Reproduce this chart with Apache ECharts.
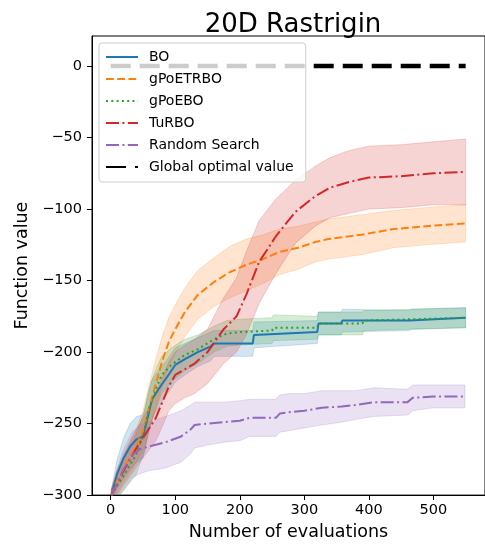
<!DOCTYPE html>
<html><head><meta charset="utf-8">
<script src="https://cdn.jsdelivr.net/npm/echarts@6/dist/echarts.min.js"></script>
<style>html,body{margin:0;padding:0;background:#fff}#c{width:485px;height:546px}</style>
</head><body><div id="c"></div>
<script>
const xTicks = [0, 100, 200, 300, 400, 500];
const yTicks = [-300, -250, -200, -150, -100, -50, 0];

const boX = [1, 10, 20, 30, 40, 50, 55, 64, 74, 85, 100, 115, 135, 155, 160, 190, 220, 222, 320, 322, 357, 359, 463, 465, 550];
const boMean = [-300, -285, -274, -266, -261, -259, -250, -233, -226, -219, -209, -205, -200, -196, -194, -194, -194, -188, -186, -180, -180, -178, -178, -177, -176];
const boHigh = [-296, -275, -260, -250, -245, -244, -236, -219, -213, -207, -197, -194, -190, -186, -185, -185, -185, -179, -178, -172, -172, -170, -171, -170, -169];
const boLow = [-304, -295, -288, -282, -277, -274, -264, -247, -239, -231, -221, -216, -210, -206, -203, -203, -203, -197, -194, -188, -188, -186, -185, -184, -183];

const etrX = [1, 10, 20, 30, 40, 50, 60, 70, 80, 90, 100, 115, 135, 160, 185, 210, 236, 261, 291, 317, 337, 388, 438, 488, 550];
const etrMean = [-300, -290, -281, -273, -265, -255, -238, -222, -206, -193, -184, -172, -160, -151, -144, -139, -135, -130, -127, -123, -121, -118, -114, -112, -110];
const etrHigh = [-296, -282, -271, -262, -253, -241, -222, -205, -189, -176, -167, -155, -143, -134, -126, -121, -118, -114, -112, -109, -107, -104, -101, -99, -97];
const etrLow = [-304, -298, -291, -284, -277, -269, -254, -239, -223, -210, -201, -189, -177, -168, -162, -157, -152, -146, -142, -137, -135, -132, -127, -125, -123];

const ebX = [1, 18, 39, 52, 59, 70, 79, 94, 115, 135, 160, 180, 200, 250, 252, 320, 322, 390, 392, 550];
const ebMean = [-300, -288, -272, -256, -240, -226, -216, -209, -202, -198, -191, -187, -186, -185, -183, -183, -180, -180, -178, -176];
const ebHigh = [-296, -278, -258, -242, -226, -212, -203, -197, -191, -188, -182, -178, -177, -176, -174, -175, -172, -172, -171, -169];
const ebLow = [-304, -298, -286, -270, -254, -240, -229, -221, -213, -208, -200, -196, -195, -194, -192, -191, -188, -188, -185, -183];

const turX = [1, 10, 20, 30, 40, 50, 60, 70, 80, 90, 100, 115, 130, 150, 175, 195, 210, 230, 256, 286, 317, 340, 370, 400, 450, 500, 550];
const turMean = [-300, -292, -283, -275, -267, -260, -253, -246, -235, -224, -216, -212, -208, -200, -184, -175, -160, -137, -119, -102, -91, -85, -81, -78, -77, -75, -74];
const turHigh = [-296, -284, -273, -263, -254, -246, -238, -230, -218, -207, -200, -195, -191, -184, -162, -148, -130, -108, -93, -80, -70, -64, -59, -56, -55, -53, -51];
const turLow = [-304, -300, -293, -287, -280, -274, -268, -262, -252, -241, -236, -232, -229, -222, -208, -200, -188, -166, -145, -124, -112, -106, -103, -100, -99, -97, -97];

const rsX = [1, 9, 20, 33, 45, 59, 85, 109, 124, 130, 150, 176, 200, 215, 256, 262, 276, 300, 327, 358, 380, 408, 460, 468, 500, 549];
const rsMean = [-300, -293, -282, -272, -268, -266, -263, -259, -254, -251, -250, -249, -248, -246, -246, -243, -242, -241, -239, -238, -237, -235, -235, -232, -231, -231];
const rsHigh = [-296, -283, -268, -256, -251, -249, -245, -241, -237, -235, -235, -235, -234, -233, -233, -230, -229, -229, -227, -227, -227, -225, -226, -223, -223, -223];
const rsLow = [-304, -303, -296, -288, -285, -283, -281, -277, -271, -267, -265, -263, -262, -259, -259, -256, -255, -253, -251, -249, -247, -245, -244, -241, -239, -239];

const optX = [0, 550];
const optY = [0, 0];

const FONT = 'DejaVu Sans';
const fmtMinus = v => (v < 0 ? '\u2212' + Math.abs(v) : String(v));

function band(xs, lo, hi, rgb) {
  return {
    type: 'custom', z: 1, clip: true, silent: true, animation: false,
    data: xs.map((x, i) => [x, lo[i], hi[i]]),
    encode: { x: 0, y: [1, 2] },
    renderItem: function (params, api) {
      if (params.dataIndex !== 0) return null;
      const pts = [];
      for (let i = 0; i < xs.length; i++) pts.push(api.coord([xs[i], hi[i]]));
      for (let i = xs.length - 1; i >= 0; i--) pts.push(api.coord([xs[i], lo[i]]));
      return { type: 'polygon', shape: { points: pts },
        style: { fill: 'rgba(' + rgb + ',0.2)', stroke: 'rgba(' + rgb + ',0.2)', lineWidth: 1 } };
    }
  };
}
function line(name, xs, ys, color, type, width) {
  return {
    type: 'line', name: name, z: 3, clip: true, animation: false,
    showSymbol: false, symbol: 'none',
    data: xs.map((x, i) => [x, ys[i]]),
    lineStyle: { color: color, width: width || 2, type: type },
    itemStyle: { color: color, opacity: 0 }
  };
}

const chart = echarts.init(document.getElementById('c'), null, { renderer: 'canvas' });
chart.setOption({
  animation: false,
  backgroundColor: '#fff',
  textStyle: { fontFamily: FONT },
  grid: { left: 92, right: -9, top: 36, bottom: 49.5, show: true, borderColor: '#000', borderWidth: 1, backgroundColor: 'transparent' },
  graphic: [{ type: 'text', x: 293, y: 25, z: 10,
    style: { text: '20D Rastrigin', font: '26px "DejaVu Sans"', fill: '#000', textAlign: 'center', textVerticalAlign: 'middle' } }],
  xAxis: {
    type: 'value', min: -29, max: 580,
    name: 'Number of evaluations', nameLocation: 'middle', nameGap: 26,
    nameTextStyle: { fontFamily: FONT, fontSize: 17.5, color: '#000' },
    axisLine: { show: true, onZero: false, lineStyle: { color: '#000', width: 1 } },
    splitLine: { show: false },
    axisTick: { show: true, inside: false, length: 5, customValues: xTicks, lineStyle: { color: '#000', width: 1 } },
    axisLabel: { customValues: xTicks, margin: 8, fontFamily: FONT, fontSize: 14.5, color: '#000', formatter: fmtMinus }
  },
  yAxis: {
    type: 'value', min: -300, max: 21,
    name: 'Function value', nameLocation: 'middle', nameGap: 52,
    nameTextStyle: { fontFamily: FONT, fontSize: 17.5, color: '#000' },
    axisLine: { show: true, onZero: false, lineStyle: { color: '#000', width: 1 } },
    splitLine: { show: false },
    axisTick: { show: true, inside: false, length: 5, customValues: yTicks, lineStyle: { color: '#000', width: 1 } },
    axisLabel: { customValues: yTicks, margin: 10, fontFamily: FONT, fontSize: 14.5, color: '#000', formatter: fmtMinus }
  },
  legend: {
    orient: 'vertical', left: 99, top: 43,
    data: ['BO', 'gPoETRBO', 'gPoEBO', 'TuRBO', 'Random Search', 'Global optimal value'],
    itemWidth: 32, itemHeight: 14, itemGap: 8,
    padding: [7, 12, 8, 6],
    backgroundColor: 'rgba(255,255,255,0.8)', borderColor: '#cccccc', borderWidth: 1, borderRadius: 3,
    itemStyle: { opacity: 0 },
    textStyle: { fontFamily: FONT, fontSize: 14, color: '#000', padding: [0, 0, 0, 6] },
    selectedMode: false
  },
  series: [
    band(boX, boLow, boHigh, '31,119,180'),
    band(etrX, etrLow, etrHigh, '255,127,14'),
    band(ebX, ebLow, ebHigh, '44,160,44'),
    band(turX, turLow, turHigh, '214,39,40'),
    band(rsX, rsLow, rsHigh, '148,103,189'),
    line('BO', boX, boMean, '#1f77b4', 'solid'),
    line('gPoETRBO', etrX, etrMean, '#ff7f0e', [7.8, 3.4]),
    line('gPoEBO', ebX, ebMean, '#2ca02c', [2, 3.3]),
    line('TuRBO', turX, turMean, '#d62728', [13, 3.4, 2, 3.4]),
    line('Random Search', rsX, rsMean, '#9467bd', [13, 3.4, 2, 3.4]),
    line('Global optimal value', optX, optY, '#000000', [20, 9], 4.5)
  ]
});
</script></body></html>
